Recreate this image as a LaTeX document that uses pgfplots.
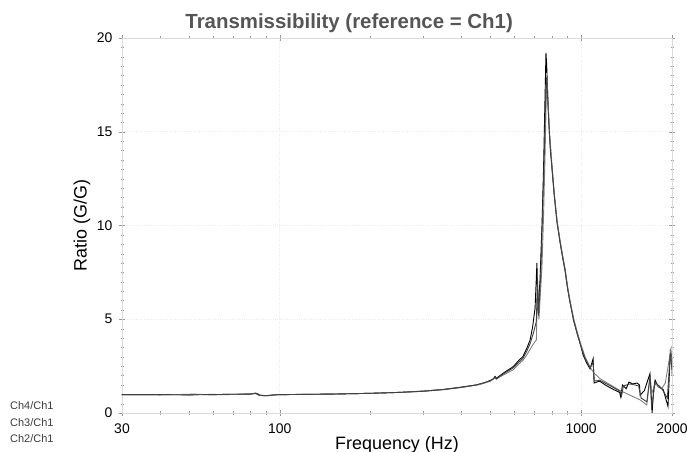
\documentclass[border=0pt]{standalone}
\usepackage{pgfplots}
\pgfplotsset{compat=1.18}
\usepackage{fontspec}
\setmainfont{Liberation Sans}
\setsansfont{Liberation Sans}
\definecolor{gridgray}{gray}{0.86}
\definecolor{gridfaint}{gray}{0.92}
\definecolor{titlegray}{RGB}{85,85,85}
\definecolor{leggray}{RGB}{60,60,60}
\begin{document}
\begin{tikzpicture}
\path[use as bounding box] (-122bp,-39bp) rectangle (565bp,413bp);
\begin{axis}[
  at={(0,0)}, anchor=south west,
  scale only axis, width=550bp, height=375bp,
  xmode=log, xmin=30, xmax=2000, ymin=0, ymax=20,
  xtick={30,100,1000,2000}, xticklabels={30,100,1000,2000},
  minor xtick={40,50,60,70,80,90,200,300,400,500,600,700,800,900},
  ytick={0,5,10,15,20},
  minor y tick num=9,
  grid=major, major grid style={gridfaint, dotted, line width=0.5bp},
  axis line style={gridgray},
  tick style={gray!80},
  tick align=center, major tick length=6bp, minor tick length=3bp,
  /pgf/number format/assume math mode=true,
  ticklabel style={font=\fontsize{14}{14}\selectfont, text=black},
  xticklabel style={anchor=base, yshift=-17bp},
  yticklabel style={xshift=-3bp},
  title={Transmissibility (reference = Ch1)},
  title style={font=\fontsize{20.5}{21}\selectfont\bfseries, text=titlegray, at={(axis description cs:0.413,1)}, anchor=base, yshift=4bp},
  xlabel={Frequency (Hz)},
  xlabel style={font=\fontsize{18}{18}\selectfont, at={(axis description cs:0.5,0)}, anchor=base, yshift=-36bp},
  ylabel={Ratio (G/G)},
  ylabel style={font=\fontsize{18}{18}\selectfont, at={(axis description cs:-0.0727,0.5)}, anchor=center},
  legend image code/.code={},
  legend cell align=left,
  legend style={draw=none, fill=none, inner sep=0pt, column sep=0pt, row sep=6.5bp,
    at={(axis description cs:-0.2036,0.030)}, anchor=north west,
    font=\fontsize{11}{11}\selectfont, text=leggray,
    nodes={inner sep=0pt, text height=8bp, text depth=2bp}},
]
\draw[black, line width=1bp] (rel axis cs:0,0) -- (rel axis cs:1,0);
% Ch4/Ch1
\addplot[black, line width=0.9bp] coordinates {
(30,0.98) (35,0.98) (40,0.97) (45,0.98) (50,0.96) (55,0.99) (60,0.98) (65,0.99) (70,1.00) (75,1.00) (80,1.01) (83,1.06) (85,0.96) (88,0.92) (92,0.93) (96,0.97) (100,0.98) (120,0.99) (150,1.01) (200,1.05) (250,1.10) (300,1.17) (350,1.26) (400,1.38) (450,1.50) (480,1.62) (510,1.80) (518,1.95) (523,1.85) (538,2.0) (560,2.2) (594,2.46) (620,2.8) (640,3.0) (660,3.45) (677,3.9) (690,4.6) (703,5.6) (713,8.0) (719,5.3) (730,7.1) (741,10.0) (750,13.0) (757,16.2) (764,19.2) (768,18.6) (775,16.8) (785,14.8) (800,13.0) (814,11.6) (831,10.2) (851,9.1) (870,8.2) (884,7.6) (900,6.7) (918,5.9) (945,4.9) (971,4.2) (1000,3.5) (1014,3.1) (1040,2.7) (1070,2.35) (1095,2.9) (1103,1.6) (1150,1.7) (1200,1.5) (1280,1.25) (1340,1.1) (1352,0.85) (1370,1.5) (1410,1.3) (1440,1.65) (1480,1.55) (1530,1.6) (1560,1.5) (1568,0.95) (1620,1.2) (1690,2.1) (1700,1.5) (1718,0.0) (1740,1.3) (1758,1.75) (1800,1.4) (1870,1.25) (1940,0.35) (1975,3.3) (1990,3.1) (2000,2.6)
};
\addlegendentry{Ch4/Ch1}
% Ch3/Ch1
\addplot[gray, line width=0.9bp] coordinates {
(30,0.98) (40,0.98) (48,0.99) (52,1.01) (56,0.98) (60,1.00) (64,0.97) (70,0.99) (80,1.02) (84,1.04) (86,0.95) (90,0.93) (95,0.96) (100,0.98) (150,1.01) (200,1.05) (250,1.10) (300,1.16) (350,1.25) (400,1.36) (462,1.52) (500,1.70) (518,1.88) (523,1.80) (538,1.93) (560,2.08) (594,2.3) (620,2.6) (640,2.8) (660,3.1) (677,3.4) (695,3.7) (710,3.9) (716,6.9) (724,5.0) (741,7.8) (750,10.5) (758,13.5) (765,16.5) (770,17.8) (775,16.8) (785,15.0) (800,13.2) (814,11.7) (831,10.3) (851,9.2) (870,8.3) (884,7.7) (900,6.8) (918,6.0) (945,5.0) (971,4.3) (1000,3.6) (1030,3.0) (1070,2.45) (1100,2.15) (1150,1.85) (1250,1.5) (1345,1.2) (1450,0.95) (1568,0.7) (1650,0.43) (1692,1.9) (1710,1.0) (1758,1.55) (1850,1.3) (1900,1.6) (1960,2.9) (1985,3.4) (2000,2.0)
};
\addlegendentry{Ch3/Ch1}
% Ch2/Ch1
\addplot[black!75, line width=0.9bp] coordinates {
(30,0.98) (40,0.98) (50,0.97) (60,0.98) (70,1.00) (80,1.01) (84,1.05) (86,0.95) (90,0.92) (96,0.96) (100,0.98) (150,1.01) (200,1.05) (250,1.10) (300,1.16) (350,1.25) (400,1.37) (450,1.50) (500,1.72) (518,1.90) (523,1.82) (538,1.97) (560,2.15) (594,2.4) (620,2.7) (640,2.9) (660,3.3) (677,3.7) (695,4.3) (710,4.9) (716,7.2) (722,5.2) (735,7.6) (745,10.8) (755,14.0) (762,16.8) (767,17.9) (772,17.2) (780,15.6) (790,14.0) (800,13.1) (814,11.6) (831,10.2) (851,9.1) (870,8.2) (884,7.6) (900,6.7) (918,5.9) (945,4.9) (971,4.2) (1000,3.5) (1030,2.9) (1070,2.4) (1095,2.7) (1105,1.7) (1150,1.75) (1250,1.45) (1345,1.15) (1360,0.9) (1380,1.45) (1450,1.55) (1550,1.45) (1580,0.8) (1650,0.6) (1692,2.0) (1712,0.3) (1758,1.65) (1850,1.3) (1930,0.8) (1975,3.2) (2000,2.3)
};
\addlegendentry{Ch2/Ch1}
\end{axis}
\end{tikzpicture}
\end{document}
